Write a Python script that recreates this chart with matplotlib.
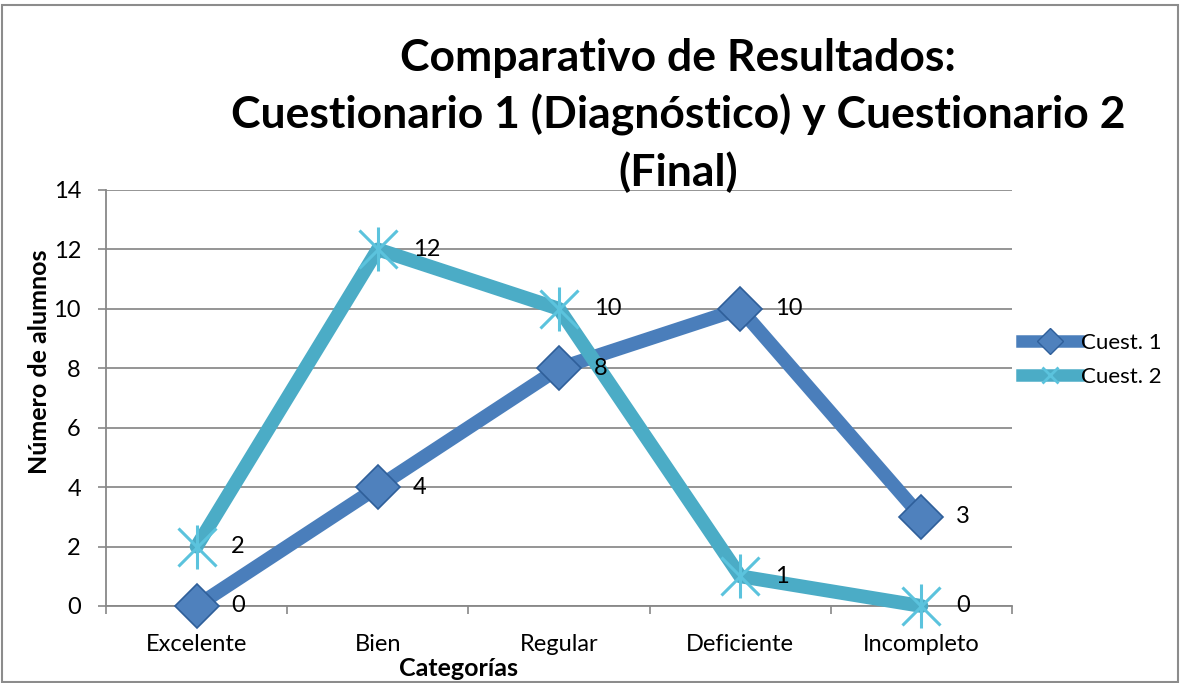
import matplotlib.pyplot as plt
from matplotlib.patches import Rectangle
from matplotlib.lines import Line2D

# Datos
categorias = ['Excelente', 'Bien', 'Regular', 'Deficiente', 'Incompleto']
cuest1 = [0, 4, 8, 10, 3]
cuest2 = [2, 12, 10, 1, 0]
y_ticks = [0, 2, 4, 6, 8, 10, 12, 14]

azul = '#4A7EBB'
cian = '#4BACC6'
estrella = '#5BC3DD'
plt.rcParams['font.family'] = ['Lato', 'DejaVu Sans']

fig = plt.figure(figsize=(11.8, 6.83), dpi=100)
ax = fig.add_axes([106 / 1180, 1 - 606 / 683, (1012 - 106) / 1180, (606 - 190) / 683])

x = list(range(len(categorias)))

ax.plot(x, cuest1, color=azul, lw=10, solid_capstyle='round', zorder=3, clip_on=False)
ax.plot(x, cuest2, color=cian, lw=10, solid_capstyle='round', zorder=3, clip_on=False)
ax.plot(x, cuest1, ls='none', marker='D', ms=22, mfc='#4F81BD', mec='#2F5F9A',
        mew=1.2, zorder=5, clip_on=False)
ax.plot(x, cuest2, ls='none', marker='x', ms=27, mec=estrella, mew=2.2, zorder=4, clip_on=False)
ax.plot(x, cuest2, ls='none', marker='|', ms=32, mec=estrella, mew=2.2, zorder=4, clip_on=False)

for xi, v in zip(x, cuest1):
    ax.annotate(str(v), (xi, v), xytext=(25, 0), textcoords='offset points',
                va='center', ha='left', fontsize=17)
for xi, v in zip(x, cuest2):
    ax.annotate(str(v), (xi, v), xytext=(25, 0), textcoords='offset points',
                va='center', ha='left', fontsize=17)

ax.set_xlim(-0.5, 4.5)
ax.set_ylim(0, 14)
ax.set_yticks(y_ticks)
ax.set_xticks(x)
ax.set_xticklabels(categorias, fontsize=17)
ax.set_xticks([i - 0.5 for i in range(len(categorias) + 1)], minor=True)
ax.tick_params(axis='x', which='major', length=0, pad=20)
ax.tick_params(axis='x', which='minor', length=6, color='#888888', direction='out', width=1.2)
ax.tick_params(axis='y', length=6, color='#888888', width=1.2, labelsize=17, pad=12)
ax.grid(axis='y', color='#8c8c8c', lw=1.3)
ax.set_axisbelow(True)
for s in ['top', 'right']:
    ax.spines[s].set_visible(False)
for s in ['left', 'bottom']:
    ax.spines[s].set_color('#888888')
    ax.spines[s].set_linewidth(1.3)

fig.text(40 / 1180, 1 - 362 / 683, 'Número de alumnos', ha='center', va='center',
         rotation=90, fontsize=18, fontweight='bold')
fig.text(458 / 1180, 1 - 668 / 683, 'Categorías', ha='center', va='center',
         fontsize=18, fontweight='bold')

titulo = ['Comparativo de Resultados:',
          'Cuestionario 1 (Diagnóstico) y Cuestionario 2',
          '(Final)']
for i, linea in enumerate(titulo):
    fig.text(678 / 1180, 1 - (58 + 57 * i) / 683, linea, ha='center', va='center',
             fontsize=32, fontweight='bold')

# Leyenda
h1 = Line2D([], [], color=azul, lw=9, marker='D', ms=13, mfc='#4F81BD', mec='#2F5F9A')
h2 = Line2D([], [], color=cian, lw=9, marker='x', ms=11, mec=estrella, mew=2)
fig.legend([h1, h2], ['Cuest. 1', 'Cuest. 2'], loc='center left',
           bbox_to_anchor=(1022 / 1180, 1 - 360 / 683), frameon=False,
           fontsize=16, handlelength=2.5, handletextpad=0.15, labelspacing=0.65,
           borderaxespad=0, borderpad=0)

fig.add_artist(Rectangle((0.002, 0.002), 0.996, 0.99, transform=fig.transFigure,
                         fill=False, edgecolor='#8c8c8c', lw=1.5))

fig.savefig('out.png', dpi=100)
